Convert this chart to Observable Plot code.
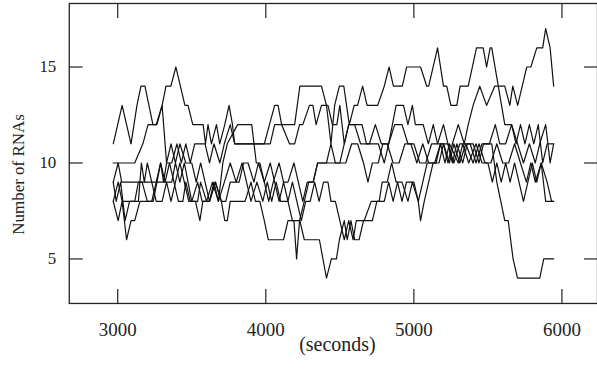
<!DOCTYPE html>
<html>
<head>
<meta charset="utf-8">
<script src="https://cdn.jsdelivr.net/npm/d3@7"></script>
<script src="https://cdn.jsdelivr.net/npm/@observablehq/plot@0.6"></script>
<style>
html,body{margin:0;padding:0;background:#fff;overflow:hidden;}
#chart{width:597px;height:372px;overflow:hidden;}
</style>
</head>
<body>
<div id="chart"></div>
<script>
// x ticks / y ticks
const xTicks = [3000, 4000, 5000, 6000];
const yTicks = [5, 10, 15];
const xLabel = "(seconds)";
const yLabel = "Number of RNAs";

// six trajectories: [time (s), number of RNAs]
const s1 = [[2970,11],[3030,13],[3090,11],[3130,13],[3157,14],[3184,14],[3238,12],[3265,12],[3300,13],[3326,14],[3359,14],[3393,15],[3454,13],[3475,13],[3507,12],[3577,12],[3593,11],[3610,12],[3633,11],[3667,12],[3689,11],[3723,12],[3752,13],[3775,12],[3790,11],[3990,11],[4060,13],[4083,13],[4107,12],[4195,12],[4230,14],[4376,14],[4410,13],[4440,11],[4465,13],[4497,14],[4527,14],[4564,12],[4597,13],[4620,13],[4654,14],[4684,13],[4756,13],[4800,14],[4833,15],[4862,14],[4922,14],[4951,15],[5045,15],[5087,14],[5100,14],[5160,16],[5200,14],[5222,14],[5250,13],[5290,13],[5312,14],[5367,14],[5423,16],[5468,16],[5491,15],[5515,16],[5526,16],[5570,14],[5614,12],[5660,12],[5690,11],[5720,12],[5750,11],[5780,12],[5810,11],[5840,12],[5870,10],[5900,11],[5944,11]];
const s2 = [[2970,10],[3115,10],[3170,11],[3205,12],[3260,12],[3300,13],[3330,10],[3365,10],[3400,11],[3430,10],[3460,11],[3490,10],[3520,11],[3590,11],[3620,10],[3650,11],[3690,10],[3720,11],[3760,12],[3790,11],[3990,11],[4030,11],[4060,12],[4107,12],[4160,11],[4195,11],[4228,12],[4250,12],[4295,13],[4318,13],[4340,12],[4376,13],[4420,13],[4450,12],[4480,12],[4500,13],[4530,11],[4560,12],[4600,12],[4650,12],[4680,11],[4760,11],[4800,10],[4830,11],[4880,13],[4930,13],[4960,12],[4990,13],[5010,12],[5063,12],[5098,11],[5131,12],[5160,11],[5200,11],[5230,10],[5260,11],[5300,12],[5340,11],[5367,12],[5400,13],[5445,14],[5491,13],[5546,14],[5614,14],[5648,13],[5668,14],[5701,13],[5762,15],[5790,15],[5830,16],[5870,16],[5890,17],[5920,16],[5944,14]];
const s3 = [[2970,9],[3003,10],[3027,9],[3365,9],[3390,10],[3420,9],[3450,10],[3475,9],[3500,8],[3540,8],[3560,9],[3600,8],[3640,9],[3680,8],[3720,9],[3760,10],[3800,9],[3840,10],[3870,9],[3900,8],[3940,9],[3980,8],[4010,9],[4040,8],[4070,9],[4100,8],[4150,8],[4180,7],[4230,7],[4260,6],[4362,6],[4410,4],[4443,5],[4477,5],[4497,6],[4530,7],[4550,6],[4575,7],[4600,6],[4630,6],[4660,7],[4720,7],[4750,8],[4800,8],[4830,9],[4860,8],[4890,9],[4920,8],[4950,9],[5000,9],[5030,8],[5060,9],[5090,10],[5150,10],[5180,11],[5210,10],[5240,11],[5300,10],[5330,11],[5370,10],[5420,11],[5460,10],[5500,10],[5530,9],[5560,10],[5590,9],[5620,10],[5650,9],[5680,10],[5710,9],[5740,8],[5770,9],[5800,10],[5830,9],[5860,10],[5890,8],[5944,8]];
const s4 = [[2970,8],[3003,9],[3030,8],[3115,8],[3140,9],[3165,9],[3200,8],[3240,8],[3265,9],[3290,10],[3310,9],[3330,10],[3360,11],[3390,10],[3420,11],[3460,10],[3500,10],[3530,9],[3560,10],[3590,9],[3620,8],[3650,9],[3680,8],[3710,10],[3740,11],[3810,12],[3905,12],[3936,10],[3960,10],[3990,9],[4030,10],[4060,9],[4090,8],[4120,9],[4150,8],[4180,9],[4210,8],[4240,7],[4270,8],[4300,8],[4330,9],[4360,8],[4390,9],[4420,9],[4440,8],[4470,8],[4500,7],[4530,6],[4560,7],[4590,6],[4611,7],[4665,7],[4712,8],[4766,8],[4786,9],[4820,9],[4850,10],[4880,9],[4920,9],[4960,8],[4990,9],[5030,8],[5045,7],[5070,8],[5100,9],[5130,10],[5170,10],[5200,11],[5240,10],[5270,11],[5310,10],[5350,11],[5400,10],[5440,11],[5480,10],[5520,10],[5560,11],[5600,10],[5640,10],[5680,11],[5720,10],[5760,9],[5790,10],[5820,9],[5860,10],[5900,9],[5930,8],[5944,8]];
const s5 = [[2970,9],[2990,8],[3020,9],[3050,7],[3080,8],[3140,8],[3160,10],[3180,9],[3200,10],[3230,9],[3260,8],[3300,8],[3330,9],[3360,8],[3390,9],[3420,10],[3450,9],[3480,8],[3500,8],[3540,9],[3570,8],[3620,8],[3660,9],[3700,8],[3730,8],[3760,9],[3820,9],[3850,10],[3880,10],[3920,9],[3950,10],[3990,9],[4020,8],[4050,9],[4090,10],[4120,9],[4150,9],[4190,10],[4220,9],[4250,8],[4280,9],[4320,9],[4350,10],[4410,10],[4440,11],[4470,10],[4500,10],[4530,11],[4560,12],[4600,12],[4640,11],[4700,11],[4740,12],[4780,11],[4820,11],[4860,10],[4900,10],[4940,11],[4980,11],[5020,10],[5060,11],[5100,10],[5140,10],[5180,11],[5230,11],[5270,10],[5310,11],[5380,11],[5420,10],[5460,11],[5526,11],[5560,9],[5614,7],[5637,7],[5670,5],[5700,4],[5850,4],[5877,5],[5944,5]];
const s6 = [[2970,8],[3003,7],[3030,8],[3060,6],[3090,7],[3115,7],[3150,8],[3230,8],[3260,9],[3290,10],[3320,9],[3350,10],[3380,9],[3410,8],[3440,8],[3460,9],[3490,8],[3525,8],[3555,7],[3575,8],[3620,8],[3660,9],[3700,8],[3723,7],[3740,7],[3760,8],[3860,8],[3900,9],[3930,8],[3960,8],[3990,7],[4017,6],[4120,6],[4150,7],[4190,7],[4208,5],[4228,7],[4260,8],[4290,9],[4320,9],[4350,10],[4380,10],[4510,10],[4540,10],[4580,11],[4620,11],[4660,10],[4690,9],[4720,10],[4760,10],[4790,11],[4830,11],[4870,12],[4920,12],[4960,11],[5000,11],[5040,10],[5080,10],[5120,11],[5160,11],[5200,12],[5230,11],[5260,10],[5290,11],[5330,10],[5360,11],[5400,11],[5440,10],[5470,11],[5510,11],[5550,12],[5580,11],[5620,11],[5660,12],[5700,11],[5740,10],[5780,11],[5820,10],[5850,11],[5890,12],[5920,10],[5944,11]];

const series = [s1, s2, s3, s4, s5, s6];
const rows = series.flatMap((s, k) => s.map(([t, v]) => ({run: k, t, v})));

const font = "'Liberation Serif', 'DejaVu Serif', serif";

const chart = Plot.plot({
  width: 599,
  height: 372,
  marginLeft: 69,
  marginRight: 0,
  marginTop: 3,
  marginBottom: 68,
  style: {fontFamily: font, fontSize: "18px", color: "#222", background: "#fff"},
  x: {domain: [2673, 6240]},
  y: {domain: [2.68, 18.31]},
  marks: [
    Plot.line(rows, {x: "t", y: "v", z: "run", stroke: "#111", strokeWidth: 1.2}),
    Plot.frame({stroke: "#222", strokeWidth: 1.3}),
    Plot.axisX(xTicks, {anchor: "bottom", tickSize: -14, tickPadding: 33, tickFormat: d3.format("d"), label: null, stroke: "#333", strokeWidth: 1.3, fill: "#222", fontSize: 19}),
    Plot.axisX(xTicks, {anchor: "top", tickSize: -14, tickFormat: () => "", label: null, stroke: "#333", strokeWidth: 1.3}),
    Plot.axisY(yTicks, {anchor: "left", tickSize: -14, tickPadding: 27, tickFormat: d3.format("d"), label: null, stroke: "#333", strokeWidth: 1.3, fill: "#222", fontSize: 17}),
    Plot.axisY(yTicks, {anchor: "right", tickSize: -14, tickFormat: () => "", label: null, stroke: "#333", strokeWidth: 1.3}),
    Plot.text([xLabel], {frameAnchor: "bottom", dy: 48, dx: 4, fontSize: 20, fill: "#222"}),
    Plot.text([yLabel], {frameAnchor: "left", textAnchor: "middle", rotate: -90, dx: -51, dy: 21, fontSize: 17, fill: "#222"})
  ]
});
document.getElementById("chart").appendChild(chart);
</script>
</body>
</html>
